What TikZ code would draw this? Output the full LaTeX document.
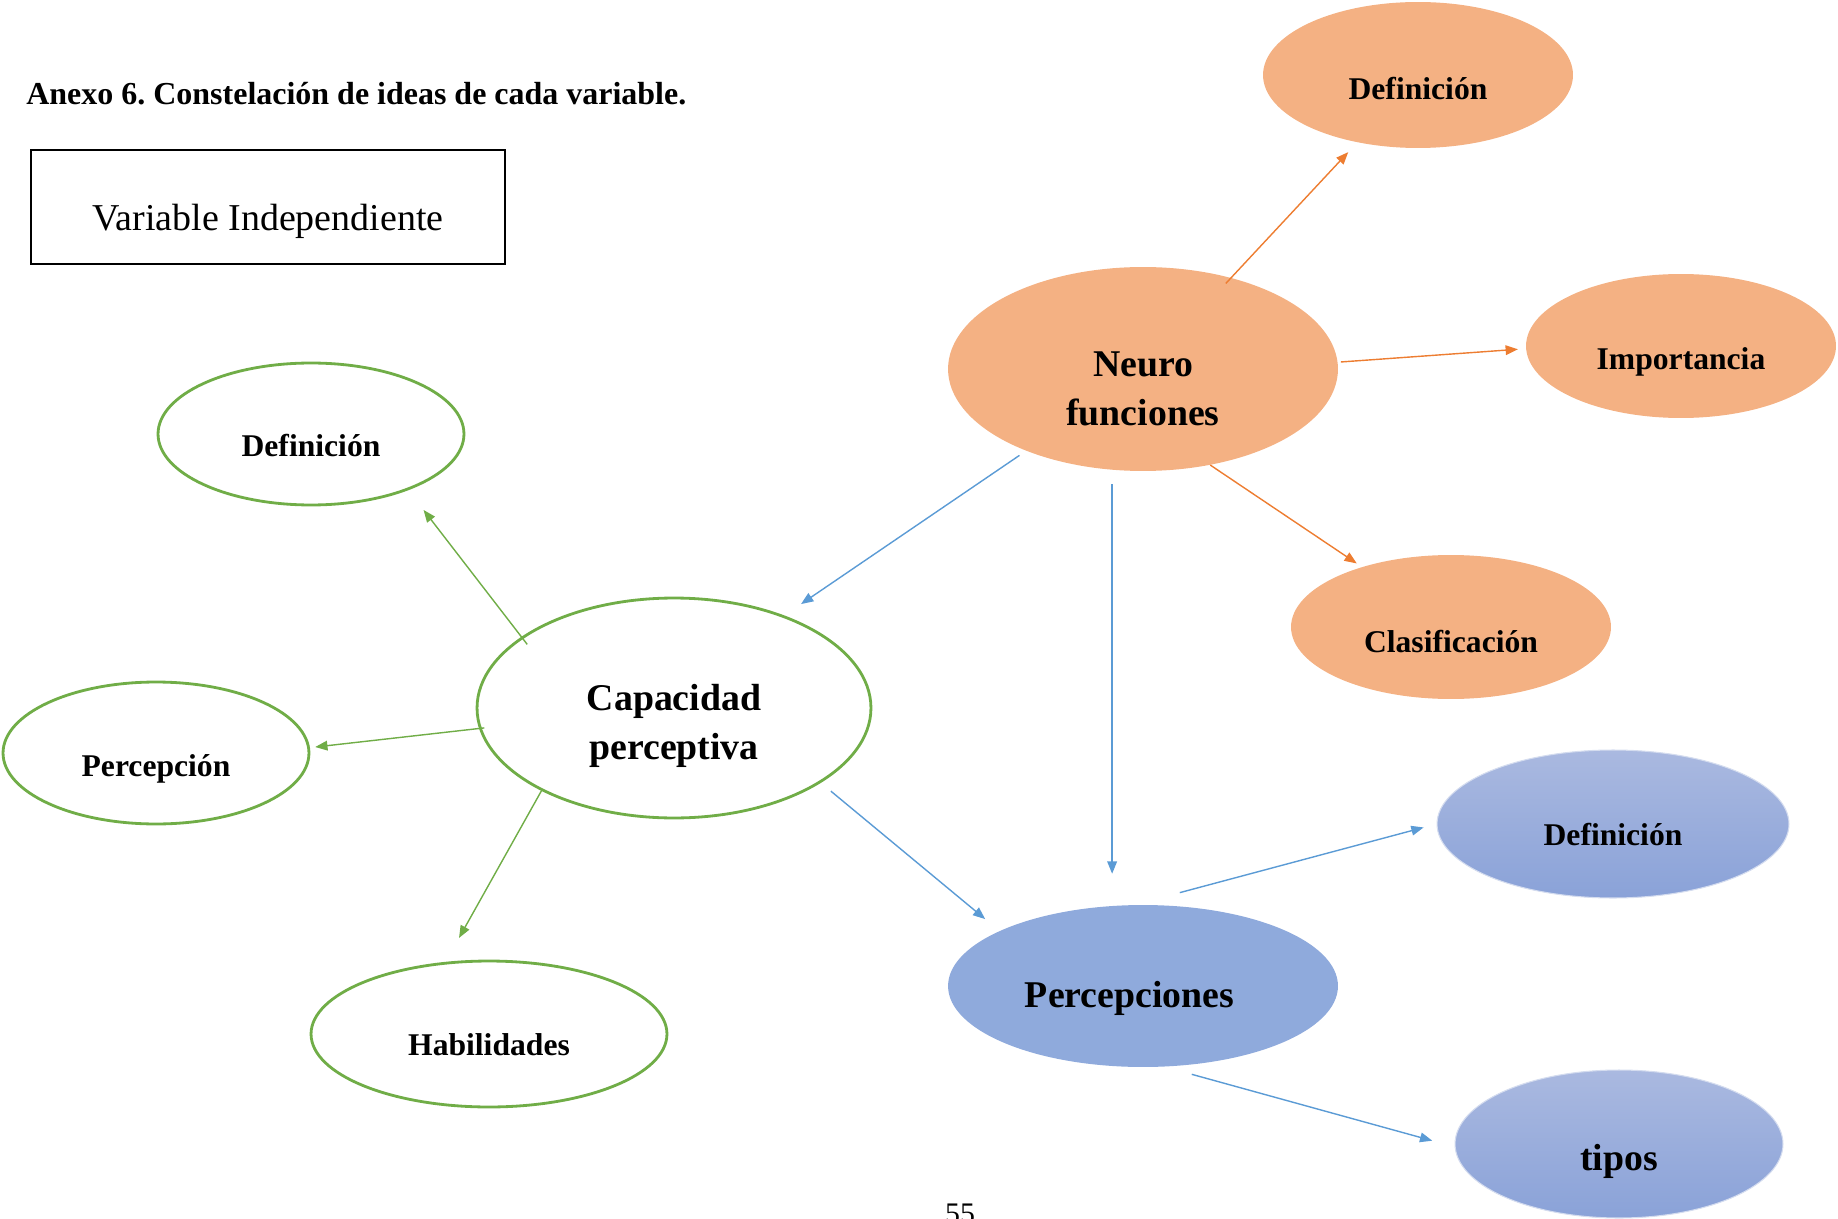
\documentclass[tikz,border=0pt]{standalone}
\usepackage{fontspec}
\setmainfont{Liberation Serif}
\usetikzlibrary{shapes.geometric, arrows.meta}
\definecolor{naranja}{HTML}{F4B183}
\definecolor{naranjaline}{HTML}{ED7D31}
\definecolor{verde}{HTML}{70AD47}
\definecolor{azulline}{HTML}{5B9BD5}
\definecolor{azul}{HTML}{8FAADC}
\definecolor{azultop}{HTML}{AAB9E0}
\definecolor{azulbot}{HTML}{8AA2D8}
\frenchspacing

\begin{document}
\begin{tikzpicture}[x=0.02cm, y=-0.02cm,
  ell/.style={ellipse, inner sep=0pt},
  naranjo/.style={ell, fill=naranja},
  verdo/.style={ell, draw=verde, line width=1.6pt, fill=white},
  azulo/.style={ell, top color=azultop, bottom color=azulbot, draw=azultop!50!white, line width=0.6pt},
  lbl/.style={font=\fontsize{18}{22}\selectfont\bfseries, align=center, yshift=-7pt},
  lblbig/.style={font=\fontsize{21.5}{28}\selectfont\bfseries, align=center, yshift=-8pt},
  flecha/.style={line width=0.8pt, -{Triangle[length=7pt, width=5.5pt]}},
]
  \useasboundingbox (0,0) rectangle (1838,1219);

  \node[anchor=west, inner sep=0pt, font=\fontsize{18.2}{22}\selectfont\bfseries] (titulo) at (26,94)
    {Anexo 6. Constelación de ideas de cada variable.};
  \node[draw, line width=1.4pt, minimum width=9.49cm, minimum height=2.28cm, inner sep=0pt,
        label={[font=\fontsize{21.6}{24}\selectfont, yshift=-8pt]center:Variable Independiente}]
    (vind) at (268,207) {};

  % neuro funciones
  \node[naranjo, minimum width=7.8cm, minimum height=4.08cm,
        label={[lblbig, yshift=-3.3pt]center:{Neuro\\funciones}}] (neuro) at (1143,369) {};
  \node[naranjo, minimum width=6.2cm, minimum height=2.92cm,
        label={[lbl, yshift=-0.7pt]center:Definición}] (defO) at (1418,75) {};
  \node[naranjo, minimum width=6.2cm, minimum height=2.88cm,
        label={[lbl, yshift=-2pt]center:Importancia}] (imp) at (1681,346) {};
  \node[naranjo, minimum width=6.4cm, minimum height=2.88cm,
        label={[lbl, yshift=-1.3pt]center:Clasificación}] (clas) at (1451,627) {};

  % capacidad perceptiva
  \node[verdo, minimum width=7.88cm, minimum height=4.4cm,
        label={[lblbig, yshift=-2pt]center:{Capacidad\\perceptiva}}] (cap) at (674,708) {};
  \node[verdo, minimum width=6.12cm, minimum height=2.84cm,
        label={[lbl, yshift=0.7pt]center:Definición}] (defG) at (311,434) {};
  \node[verdo, minimum width=6.12cm, minimum height=2.84cm,
        label={[lbl, yshift=-2pt]center:Percepción}] (perG) at (156,753) {};
  \node[verdo, minimum width=7.12cm, minimum height=2.92cm,
        label={[lbl, yshift=0.7pt]center:Habilidades}] (hab) at (489,1034) {};

  % percepciones
  \node[ell, fill=azul, minimum width=7.8cm, minimum height=3.24cm,
        label={[lblbig, yshift=0.7pt, xshift=-7.7pt]center:Percepciones}] (percep) at (1143,986) {};
  \node[azulo, minimum width=7.04cm, minimum height=2.96cm,
        label={[lbl, yshift=1pt]center:Definición}] (defB) at (1613,824) {};
  \node[azulo, minimum width=6.56cm, minimum height=2.96cm,
        label={[lblbig, yshift=-2pt]center:tipos}] (tipos) at (1619,1144) {};

  \node[anchor=base, font=\fontsize{17}{20}\selectfont] (pagina) at (960,1223) {55};

  \draw[flecha, naranjaline, shorten <=-4.5pt, shorten >=7.5pt] (neuro.46) -- (defO.228);
  \draw[flecha, naranjaline, shorten <=1.7pt, shorten >=4.5pt] (neuro.2) -- (imp.181);
  \draw[flecha, naranjaline, shorten >=3.5pt] (neuro.305) -- (clas.146);
  \draw[flecha, azulline, shorten <=4.5pt, shorten >=11.5pt] (neuro.215) -- (cap.40);
  \draw[flecha, azulline, shorten <=8pt, shorten >=17.6pt] (neuro.253) -- (neuro.253 |- percep.north);

  \draw[flecha, verde, shorten <=-5.4pt, shorten >=14.2pt] (cap.155) -- (defG.330);
  \draw[flecha, verde, shorten <=-3pt, shorten >=3pt] (cap.186) -- (perG.2);
  \draw[flecha, verde, shorten >=15.6pt] (cap.212) -- (hab.121);
  \draw[flecha, azulline, shorten <=7.4pt, shorten >=10.5pt] (cap.333) -- (percep.159);

  \draw[flecha, azulline, shorten <=26.7pt, shorten >=7.6pt] (percep.96) -- (defB.180);
  \draw[flecha, azulline, shorten <=16pt, shorten >=13.2pt] (percep.285) -- (tipos.181);
\end{tikzpicture}
\end{document}
